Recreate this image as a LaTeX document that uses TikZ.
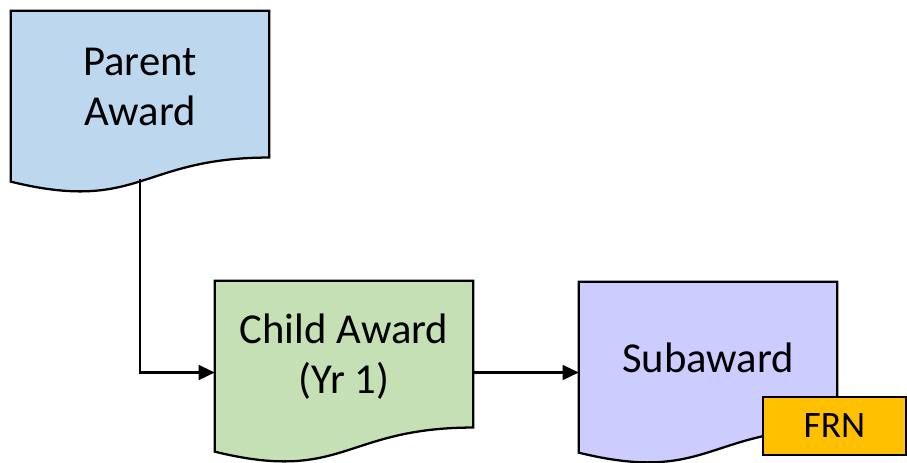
\documentclass[tikz,border=0pt]{standalone}
\usepackage{fontspec}
\setmainfont{Carlito}
\usetikzlibrary{calc,arrows.meta}

\definecolor{parentfill}{HTML}{BDD7EE}
\definecolor{childfill}{HTML}{C5E0B4}
\definecolor{subfill}{HTML}{CCCCFF}
\definecolor{frnfill}{HTML}{FFC000}

\tikzset{
  docframe/.style={draw=none, minimum width=258*0.75pt, minimum height=183*0.75pt, inner sep=0pt},
  docedge/.style={draw=black, line width=1.7pt, line join=miter},
  doclabel/.style={align=center, font=\fontsize{32}{37.5}\selectfont, inner sep=0pt},
  tagbox/.style={draw=black, line width=1.7pt, fill=frnfill, minimum width=143*0.75pt,
    minimum height=58*0.75pt, inner sep=0pt, font=\fontsize{28}{32}\selectfont},
  link/.style={line width=1.8pt, -{Triangle[length=12pt,width=11pt]}}
}

% document shape: #1 name, #2 x, #3 y of the top-left corner, #4 fill, #5 text
\newcommand\docshape[5]{%
  \node[docframe] (#1) at (#2+129,#3+91.5) {};
  \draw[docedge, fill=#4] (#1.north west) -- (#1.north east)
    -- ($(#1.north east)+(0,146.8)$)
    .. controls ($(#1.north west)+(129,146.8)$) and ($(#1.north west)+(129,202.6)$)
    .. ($(#1.north west)+(0,170.9)$) -- cycle;
  \node[doclabel] (#1-text) at ($(#1.center)+(0,-15.5)$) {#5};
  \coordinate (#1-foot) at ($(#1.north west)+(129,168.5)$);
}

\begin{document}
\begin{tikzpicture}[x=0.75pt, y=-0.75pt]
  \useasboundingbox (0,0) rectangle (907,462);

  \docshape{parent}{11}{11}{parentfill}{Parent\\Award}
  \docshape{child}{215}{281}{childfill}{Child Award\\(Yr 1)}
  \docshape{sub}{579}{282}{subfill}{Subaward}

  \node[tagbox] (frn) at (834.5,426) {FRN};

  \draw[link] (parent-foot) |- (child.west);
  \draw[link] (child.east) -- (sub.west |- child.east);
\end{tikzpicture}
\end{document}
